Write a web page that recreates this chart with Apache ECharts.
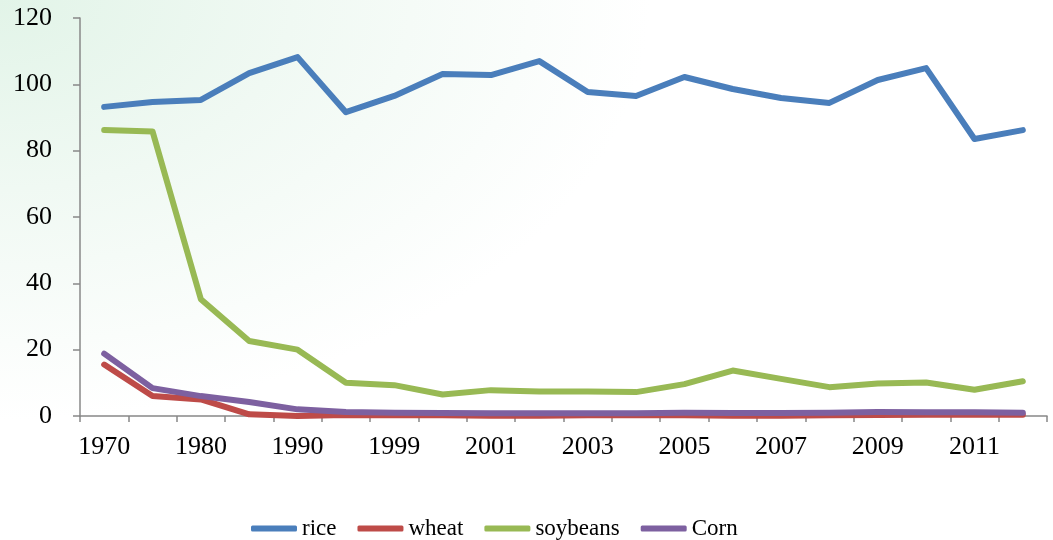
<!DOCTYPE html>
<html>
<head>
<meta charset="utf-8">
<script src="https://cdn.jsdelivr.net/npm/echarts@6/dist/echarts.min.js"></script>
<style>
html,body{margin:0;padding:0;}
body{width:1053px;height:540px;background:radial-gradient(ellipse 650px 420px at 0px 0px, #e2f4e8 0%, #f0f9f3 45%, #ffffff 100%);}
#chart{width:1053px;height:540px;}
</style>
</head>
<body>
<div id="chart"></div>
<script>
const categories = ['1970','1975','1980','1985','1990','1995','1999','2000','2001','2002','2003','2004','2005','2006','2007','2008','2009','2010','2011','2012'];
const rice = [93.2,94.7,95.3,103.4,108.2,91.6,96.5,103.1,102.8,107.0,97.7,96.5,102.2,98.6,95.9,94.4,101.3,104.9,83.5,86.2];
const wheat = [15.5,6.0,5.0,0.5,0.0,0.3,0.2,0.2,0.1,0.1,0.2,0.2,0.2,0.1,0.1,0.2,0.3,0.4,0.4,0.4];
const soybeans = [86.2,85.8,35.2,22.6,20.0,10.0,9.3,6.5,7.8,7.4,7.4,7.2,9.6,13.7,11.2,8.7,9.8,10.1,7.9,10.5];
const corn = [18.8,8.4,6.0,4.2,2.0,1.2,1.0,0.9,0.8,0.8,0.8,0.8,1.0,0.9,0.9,1.0,1.2,1.1,1.1,1.0];
const yTicks = {min:0, max:120, interval:20};

const font = 'Liberation Serif';
const chart = echarts.init(document.getElementById('chart'));
function mk(name, data, color){
  return {name, type:'line', data, symbol:'none', smooth:false,
    lineStyle:{width:6, color, cap:'round', join:'round'}, itemStyle:{color}};
}
chart.setOption({
  backgroundColor:'transparent',
  animation:false,
  grid:{left:80, right:6, top:18, bottom:124, containLabel:false},
  legend:{
    left:246, top:512, itemWidth:46, itemHeight:6, itemGap:21, icon:'roundRect',
    textStyle:{fontFamily:font, fontSize:23, color:'#000'},
    data:['rice','wheat','soybeans','Corn']
  },
  xAxis:{
    type:'category', data:categories, boundaryGap:true,
    axisLine:{lineStyle:{color:'#888', width:1.5}},
    axisTick:{show:true, interval:0, length:6, lineStyle:{color:'#888', width:1.5}},
    axisLabel:{interval:1, fontFamily:font, fontSize:26, color:'#000', margin:18}
  },
  yAxis:{
    type:'value', min:yTicks.min, max:yTicks.max, interval:yTicks.interval,
    axisLine:{show:true, lineStyle:{color:'#888', width:1.5}},
    axisTick:{show:true, length:7, lineStyle:{color:'#888', width:1.5}},
    splitLine:{show:false},
    axisLabel:{fontFamily:font, fontSize:26, color:'#000', margin:28}
  },
  series:[
    mk('rice', rice, '#4a7ebb'),
    mk('wheat', wheat, '#be4b48'),
    mk('soybeans', soybeans, '#98b954'),
    mk('Corn', corn, '#7d60a0')
  ]
});
</script>
</body>
</html>
